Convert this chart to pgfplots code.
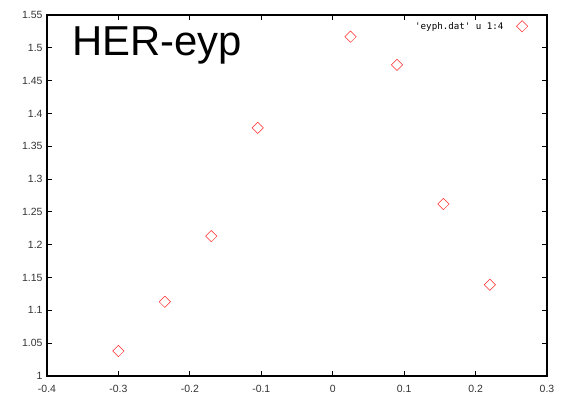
\documentclass[border=0pt]{standalone}
\usepackage{pgfplots}
\pgfplotsset{compat=1.18}
\usepackage{fontspec}
\setmainfont{Liberation Sans}
\newfontfamily\monofont{DejaVu Sans Mono}
\begin{document}
\begin{tikzpicture}[x=1bp,y=1bp]
\begin{axis}[
  scale only axis,
  width=500bp, height=361bp,
  xmin=-0.4, xmax=0.3, ymin=1, ymax=1.55,
  xtick={-0.4,-0.3,...,0.3},
  ytick={1,1.05,...,1.55},
  tick align=inside,
  major tick length=5bp,
  axis line style={line width=1.4pt},
  every tick/.style={black, line width=0.9pt},
  /pgf/number format/assume math mode=true,
  yticklabel style={/pgf/number format/.cd, fixed, precision=2, /tikz/.cd, font=\fontsize{10.5}{11}\selectfont, text=black!80, xshift=-1bp},
  xticklabel style={/pgf/number format/.cd, fixed, precision=1, /tikz/.cd, font=\fontsize{10.5}{11}\selectfont, text=black!80, yshift=-6bp},
  legend plot pos=right,
  legend style={draw=none, fill=none, at={(rel axis cs:0.968,0.992)}, anchor=north east, font=\monofont\fontsize{9.2}{10}\selectfont, column sep=11bp},
  legend cell align=right,
  clip=false,
]
\addplot[only marks, color=red!85, mark=square, mark size=4bp, mark options={rotate=45, line width=0.5pt}]
coordinates {
(-0.300,1.038)
(-0.235,1.113)
(-0.170,1.213)
(-0.105,1.378)
(0.025,1.517)
(0.090,1.474)
(0.155,1.262)
(0.220,1.139)
};
\addlegendentry{'eyph.dat' u 1:4}
\node[anchor=base west, font=\fontsize{42}{46}\selectfont, inner sep=0pt] at (rel axis cs:0.05,0.889) {HER-eyp};
\end{axis}
\pgfresetboundingbox
\useasboundingbox (-47bp,-22bp) rectangle (514bp,376bp);
\end{tikzpicture}
\end{document}
